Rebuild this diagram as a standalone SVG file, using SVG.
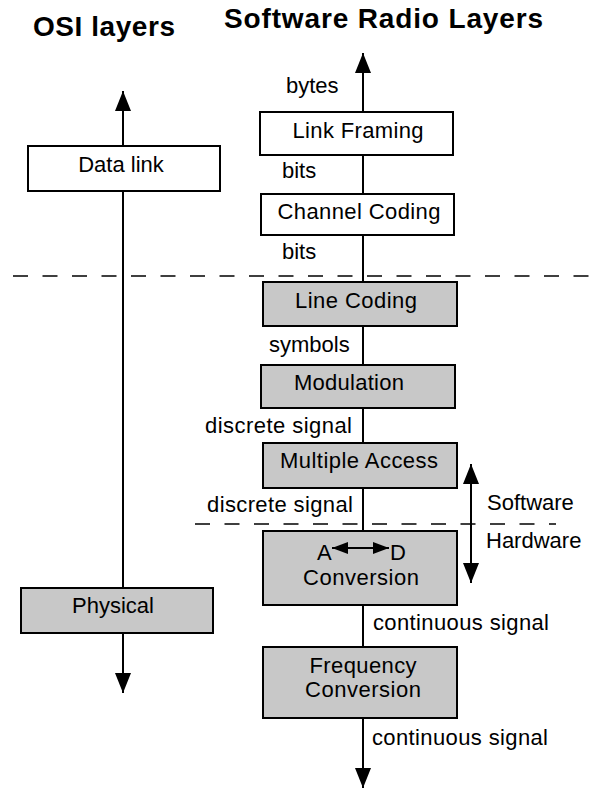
<svg xmlns="http://www.w3.org/2000/svg" width="595" height="789" viewBox="0 0 595 789">
  <defs>
    <marker id="head" viewBox="0 0 20 16" refX="20" refY="8" markerWidth="20" markerHeight="16" markerUnits="userSpaceOnUse" orient="auto-start-reverse">
      <path d="M0,0 L20,8 L0,16 Z" fill="#000"/>
    </marker>
    <marker id="headSmall" viewBox="0 0 16 12" refX="16" refY="6" markerWidth="16" markerHeight="12" markerUnits="userSpaceOnUse" orient="auto-start-reverse">
      <path d="M0,0 L16,6 L0,12 Z" fill="#000"/>
    </marker>
  </defs>
  <style>
    text { font-family: "Liberation Sans", Arial, Helvetica, sans-serif; font-size: 22px; fill: #000; }
    .title { font-weight: bold; font-size: 28px; }
    .box { stroke: #000; stroke-width: 2; }
    .plain { fill: #fff; }
    .shaded { fill: #c8c8c8; }
    .flow { stroke: #000; stroke-width: 2; fill: none; }
    .divider { stroke: #000; stroke-width: 1.6; stroke-dasharray: 15 14.5; fill: none; }
    .mid { text-anchor: middle; }
  </style>

  <!-- column headings -->
  <text class="title" x="33" y="36" textLength="142">OSI layers</text>
  <text class="title" x="224" y="28" textLength="319">Software Radio Layers</text>

  <!-- software / hardware boundaries -->
  <g id="boundaries">
    <line class="divider" x1="13" y1="276" x2="592" y2="276"/>
    <line class="divider" x1="195" y1="524" x2="556" y2="524"/>
  </g>

  <!-- connectors -->
  <g id="connectors">
    <line class="flow" x1="123" y1="91" x2="123" y2="693" marker-start="url(#head)" marker-end="url(#head)"/>
    <line class="flow" x1="363" y1="53" x2="363" y2="788" marker-start="url(#head)" marker-end="url(#head)"/>
    <line class="flow" x1="471" y1="464" x2="471" y2="583" marker-start="url(#head)" marker-end="url(#head)"/>
  </g>

  <!-- connector labels -->
  <g id="labels">
    <text x="286" y="93">bytes</text>
    <text x="282" y="178">bits</text>
    <text x="282" y="259">bits</text>
    <text x="269" y="352">symbols</text>
    <text x="205" y="433" textLength="147">discrete signal</text>
    <text x="207" y="512" textLength="146">discrete signal</text>
    <text x="487" y="510">Software</text>
    <text x="486" y="548">Hardware</text>
    <text x="373" y="630" textLength="176">continuous signal</text>
    <text x="372" y="745" textLength="176">continuous signal</text>
  </g>

  <!-- OSI layers -->
  <g id="data-link">
    <rect class="box plain" x="28" y="146" width="192" height="45"/>
    <text class="mid" x="121" y="172">Data link</text>
  </g>
  <g id="physical">
    <rect class="box shaded" x="21" y="588" width="192" height="45"/>
    <text class="mid" x="113" y="613">Physical</text>
  </g>

  <!-- software radio layers -->
  <g id="link-framing">
    <rect class="box plain" x="260" y="112" width="193" height="43"/>
    <text class="mid" x="358" y="138" textLength="131">Link Framing</text>
  </g>
  <g id="channel-coding">
    <rect class="box plain" x="261" y="194" width="193" height="41"/>
    <text class="mid" x="359" y="219" textLength="163">Channel Coding</text>
  </g>
  <g id="line-coding">
    <rect class="box shaded" x="263" y="282" width="194" height="44"/>
    <text class="mid" x="356" y="308" textLength="122">Line Coding</text>
  </g>
  <g id="modulation">
    <rect class="box shaded" x="261" y="365" width="194" height="43"/>
    <text class="mid" x="349" y="390" textLength="110">Modulation</text>
  </g>
  <g id="multiple-access">
    <rect class="box shaded" x="263" y="443" width="194" height="45"/>
    <text class="mid" x="359" y="468" textLength="158">Multiple Access</text>
  </g>
  <g id="ad-conversion">
    <rect class="box shaded" x="263" y="531" width="194" height="74"/>
    <text x="317" y="560">A</text>
    <text x="390" y="560">D</text>
    <line class="flow" x1="332" y1="548" x2="389" y2="548" marker-start="url(#headSmall)" marker-end="url(#headSmall)"/>
    <text class="mid" x="361" y="585" textLength="116">Conversion</text>
  </g>
  <g id="frequency-conversion">
    <rect class="box shaded" x="263" y="647" width="194" height="71"/>
    <text class="mid" x="363" y="673" textLength="107">Frequency</text>
    <text class="mid" x="363" y="697" textLength="116">Conversion</text>
  </g>
</svg>
